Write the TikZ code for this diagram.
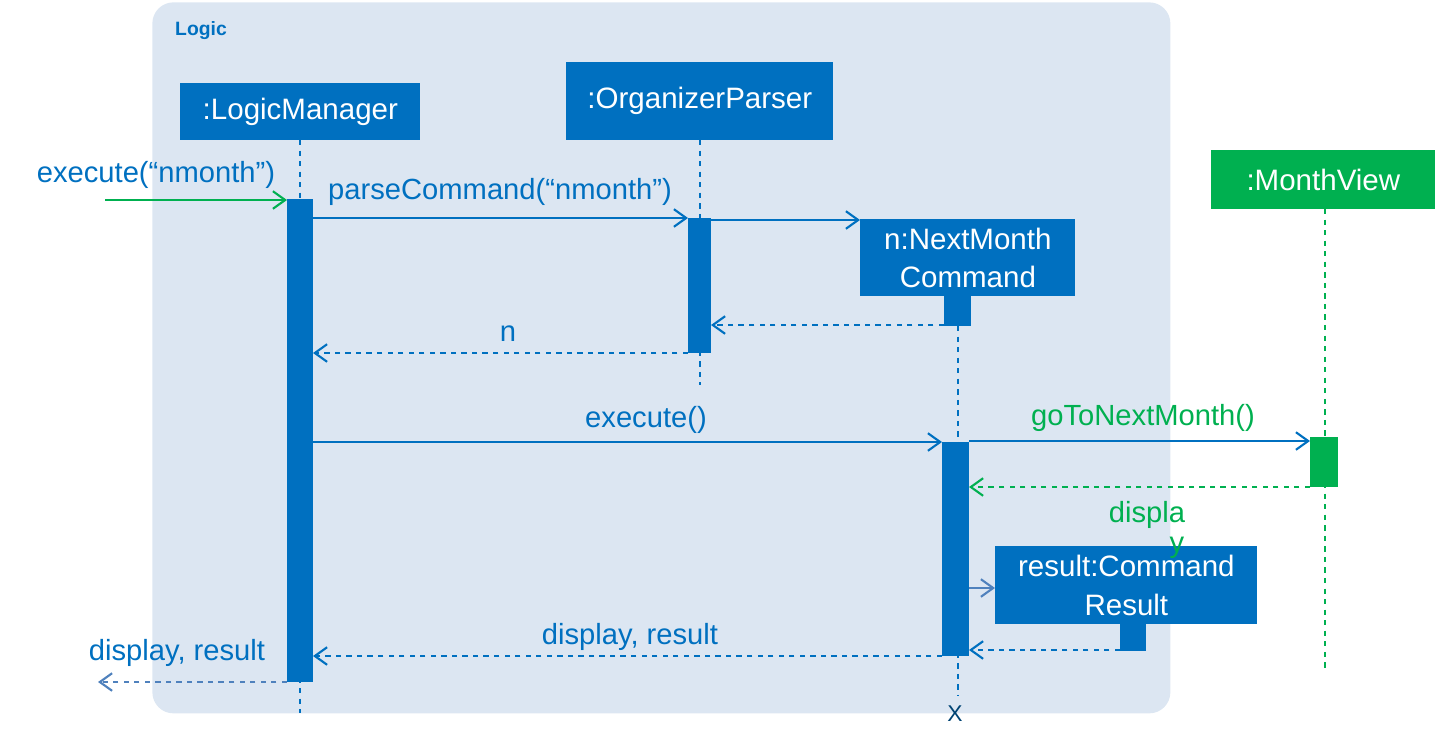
\documentclass[tikz,border=0pt]{standalone}
\usepackage{fontspec}
\setmainfont{Liberation Sans}
\usetikzlibrary{arrows.meta}
\definecolor{blu}{HTML}{0070C0}
\definecolor{grn}{HTML}{00B050}
\definecolor{bg}{HTML}{DCE6F2}
\definecolor{gb}{HTML}{4F81BD}
\begin{document}
\begin{tikzpicture}[x=0.02cm,y=-0.02cm,
  obj/.style={fill=blu,text=white,font=\fontsize{16.8}{22}\selectfont,align=center,inner sep=0},
  act/.style={fill=blu},
  life/.style={blu,dashed,line width=1.2pt},
  msg/.style={blu,line width=1.2pt,-{Straight Barb[length=7pt,width=10pt]}},
  ret/.style={msg,dashed},
  lbl/.style={font=\fontsize{16.6}{19}\selectfont,text=blu,inner sep=0}]
\useasboundingbox (0,0) rectangle (1435,741);
\node[fill=bg,rounded corners=12pt,minimum width=1018*0.02cm,minimum height=711*0.02cm,anchor=north west] (logic) at (152,2) {};
\node[font=\bfseries\fontsize{11}{13}\selectfont,text=blu] (logiclbl) at (201,31) {Logic};
% lifelines
\coordinate (lmtop) at (300,140); \coordinate (lmbot) at (300,713);
\draw[life] (lmtop) -- (lmbot);
\coordinate (optop) at (700,140); \coordinate (opbot) at (700,385);
\draw[life] (optop) -- (opbot);
\coordinate (nmtop) at (958,326); \coordinate (nmbot) at (958,695);
\draw[life] (nmtop) -- (nmbot);
\coordinate (mvtop) at (1325,209); \coordinate (mvbot) at (1325,670);
\draw[life,grn] (mvtop) -- (mvbot);
% objects
\node[obj,minimum width=240*0.02cm,minimum height=57*0.02cm,anchor=north west] (lm) at (180,83) {:LogicManager};
\node[obj,minimum width=267*0.02cm,minimum height=78*0.02cm,anchor=north west] (op) at (566,62) {:OrganizerParser};
\node[obj,minimum width=215*0.02cm,minimum height=77*0.02cm,anchor=north west] (nm) at (860,219) {n:NextMonth\\Command};
\node[fill=blu,minimum width=27*0.02cm,minimum height=30*0.02cm,inner sep=0,anchor=north west] (nmtab) at (944,296) {};
\node[obj,fill=grn,minimum width=224*0.02cm,minimum height=59*0.02cm,anchor=north west] (mv) at (1211,150) {:MonthView};
\node[obj,minimum width=262*0.02cm,minimum height=78*0.02cm,anchor=north west] (cr) at (995,546) {result:Command\\Result};
\node[fill=blu,minimum width=26*0.02cm,minimum height=27*0.02cm,inner sep=0,anchor=north west] (crtab) at (1120,624) {};
% activations
\fill[blu] (287,199) rectangle (313,682);
\fill[blu] (688,218) rectangle (711,353);
\fill[blu] (942,442) rectangle (969,656);
\fill[grn] (1310,437) rectangle (1338,487);
% messages
\coordinate (in) at (105,200); \coordinate (lma) at (287,200);
\draw[msg,grn] (in) -- (lma);
\node[lbl] (l1) at (156,175) {execute(“nmonth”)};
\coordinate (a1) at (313,218); \coordinate (b1) at (688,218);
\draw[msg] (a1) -- (b1);
\node[lbl] (l2) at (500,192) {parseCommand(“nmonth”)};
\coordinate (a2) at (711,220);
\draw[msg] (a2) -- (nm.west |- a2);
\coordinate (a3) at (944,325); \coordinate (b3) at (711,325);
\draw[ret] (a3) -- (b3);
\coordinate (a4) at (688,353); \coordinate (b4) at (313,353);
\draw[ret] (a4) -- (b4);
\node[lbl] (l3) at (508,334) {n};
\coordinate (a5) at (313,442); \coordinate (b5) at (942,442);
\draw[msg] (a5) -- (b5);
\node[lbl] (l4) at (646,420) {execute()};
\coordinate (a6) at (969,441); \coordinate (b6) at (1310,441);
\draw[msg] (a6) -- (b6);
\node[lbl,text=grn] (l5) at (1143,418) {goToNextMonth()};
\coordinate (a7) at (1310,487); \coordinate (b7) at (969,487);
\draw[ret,grn] (a7) -- (b7);
\node[lbl,text=grn] (l6) at (1147,515) {displa};
\node[lbl,text=grn] (l7) at (1177,548) {y};
\coordinate (a8) at (969,588);
\draw[msg,gb] (a8) -- (cr.west |- a8);
\coordinate (a9) at (1120,650); \coordinate (b9) at (969,650);
\draw[ret] (a9) -- (b9);
\coordinate (a10) at (942,656); \coordinate (b10) at (313,656);
\draw[ret] (a10) -- (b10);
\node[lbl] (l8) at (630,637) {display, result};
\coordinate (a11) at (287,682); \coordinate (b11) at (98,682);
\draw[ret,gb] (a11) -- (b11);
\node[lbl] (l9) at (177,653) {display, result};
\node[font=\fontsize{13}{15}\selectfont,text=blu!60!black] (x) at (955,714) {X};
\end{tikzpicture}
\end{document}
